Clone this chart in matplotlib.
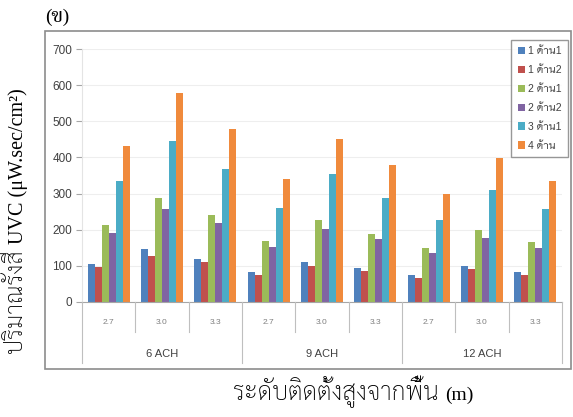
import matplotlib
matplotlib.use("Agg")
import matplotlib.pyplot as plt
from matplotlib.patches import Rectangle
from matplotlib.lines import Line2D
import numpy as np

# Mounting heights within each air-change group
heights = ["2.7", "3.0", "3.3"]
groups = ["6 ACH", "9 ACH", "12 ACH"]

series_names = ["1 ด้าน1", "1 ด้าน2", "2 ด้าน1", "2 ด้าน2", "3 ด้าน1", "4 ด้าน"]

# UVC dose per configuration (µW.sec/cm²), 9 categories each
s1_side1 = [106, 146, 119, 84, 112, 94, 75, 100, 82]
s1_side2 = [96, 128, 111, 76, 100, 86, 67, 90, 76]
s2_side1 = [214, 289, 242, 170, 228, 189, 150, 200, 165]
s2_side2 = [192, 257, 219, 152, 202, 173, 135, 177, 150]
s3_side1 = [334, 445, 367, 260, 353, 289, 228, 309, 257]
s4_side = [433, 577, 480, 339, 452, 379, 298, 398, 334]

series = [s1_side1, s1_side2, s2_side1, s2_side2, s3_side1, s4_side]
colors = ["#4F81BD", "#C0504D", "#9BBB59", "#8064A2", "#4BACC6", "#F08A3C"]

W, H = 573, 417
fig = plt.figure(figsize=(W / 100, H / 100), dpi=100)
renderer = fig.canvas.get_renderer()

latin_serif = ["Liberation Serif", "DejaVu Serif"]
thai_serif = ["Sarabun", "Trirong", "DejaVu Sans"]
thai_sans = ["Liberation Sans", "Niramit", "DejaVu Sans"]


def px(xp, yp):
    """Pixel position (from top-left) to figure fraction."""
    return xp / W, 1 - yp / H


def mixed_text(parts, cx, cy, vertical=False):
    """Lay out (string, family, size, weight) runs on one baseline, centred on (cx, cy)."""
    arts, widths = [], []
    for s, fam, size, wt in parts:
        t = fig.text(0, 0, s, family=fam, fontsize=size, fontweight=wt,
                     ha="left", va="baseline", rotation_mode="anchor")
        widths.append(t.get_window_extent(renderer).width)
        arts.append(t)
    total = sum(widths)
    pos = -total / 2
    for t, w in zip(arts, widths):
        if vertical:
            t.set_rotation(90)
            t.set_position(px(cx + 5, cy - pos))
        else:
            t.set_position(px(cx + pos, cy + 5))
        pos += w


# outer chart frame
x0, y0 = px(45, 369)
fig.add_artist(Rectangle((x0, y0), (571 - 45) / W, (369 - 31) / H,
                         transform=fig.transFigure, fill=False,
                         edgecolor="#8C8C8C", lw=1.2))

ax = fig.add_axes([82 / W, 1 - 302 / H, (562 - 82) / W, (302 - 49) / H])

n_cat = len(groups) * len(heights)
x = np.arange(n_cat)
bw = 0.131
offsets = (np.arange(len(series)) - (len(series) - 1) / 2) * bw
handles = []
for vals, off, c, name in zip(series, offsets, colors, series_names):
    b = ax.bar(x + off, vals, width=bw, color=c, label=name, linewidth=0)
    handles.append(b)

ax.set_xlim(-0.5, n_cat - 0.5)
ax.set_ylim(0, 700)
ax.set_yticks(np.arange(0, 701, 100))
ax.tick_params(axis="y", length=4, color="#A6A6A6", labelsize=8.5,
               labelcolor="#404040", pad=3)
for t in ax.get_yticklabels():
    t.set_family(["Liberation Sans", "DejaVu Sans"])
ax.set_xticks([])
ax.grid(axis="y", color="#EEEEEE", lw=0.8)
ax.set_axisbelow(True)
for side in ["top", "right"]:
    ax.spines[side].set_visible(False)
ax.spines["left"].set_color("#E4E4E4")
ax.spines["bottom"].set_color("#A6A6A6")

# two-level category axis
cat_w = 480 / n_cat
for k in range(n_cat + 1):
    depth = 61 if k % 3 == 0 else 30
    xf = (82 + k * cat_w) / W
    fig.add_artist(Line2D([xf, xf], [1 - 302 / H, 1 - (302 + depth) / H],
                          transform=fig.transFigure, color="#BFBFBF", lw=0.8))
for i in range(n_cat):
    fig.text(*px(82 + (i + 0.5) * cat_w, 323), heights[i % 3],
             ha="center", va="center", fontsize=6, color="#7F7F7F",
             family=thai_sans)
for g, name in enumerate(groups):
    fig.text(*px(82 + (g * 3 + 1.5) * cat_w, 354), name,
             ha="center", va="center", fontsize=8, color="#404040",
             family=thai_sans)

leg = fig.legend(handles=handles, loc="upper right",
                 bbox_to_anchor=px(568, 40), frameon=True,
                 fancybox=False, shadow=False, handlelength=0.7,
                 handleheight=0.7, handletextpad=0.3, labelspacing=0.85,
                 borderpad=0.6, prop={"family": thai_sans, "size": 7.5},
                 borderaxespad=0)
leg.get_frame().set_edgecolor("#7F7F7F")
leg.get_frame().set_linewidth(1.0)
for t in leg.get_texts():
    t.set_color("#404040")

# axis titles
mixed_text([("ปริมาณรังสี ", thai_serif, 17, "light"),
            ("UVC (μW.sec/cm²)", latin_serif, 14.5, "normal")],
           18, 221, vertical=True)
mixed_text([("ระดับติดตั้งสูงจากพื้น ", thai_serif, 18, "light"),
            ("(m)", latin_serif, 14, "normal")], 353, 395)
fig.text(*px(45, 17), "(ข)", ha="left", va="center",
         fontsize=14, family=["Liberation Serif", "Trirong"])

fig.savefig("out.png", dpi=100)
